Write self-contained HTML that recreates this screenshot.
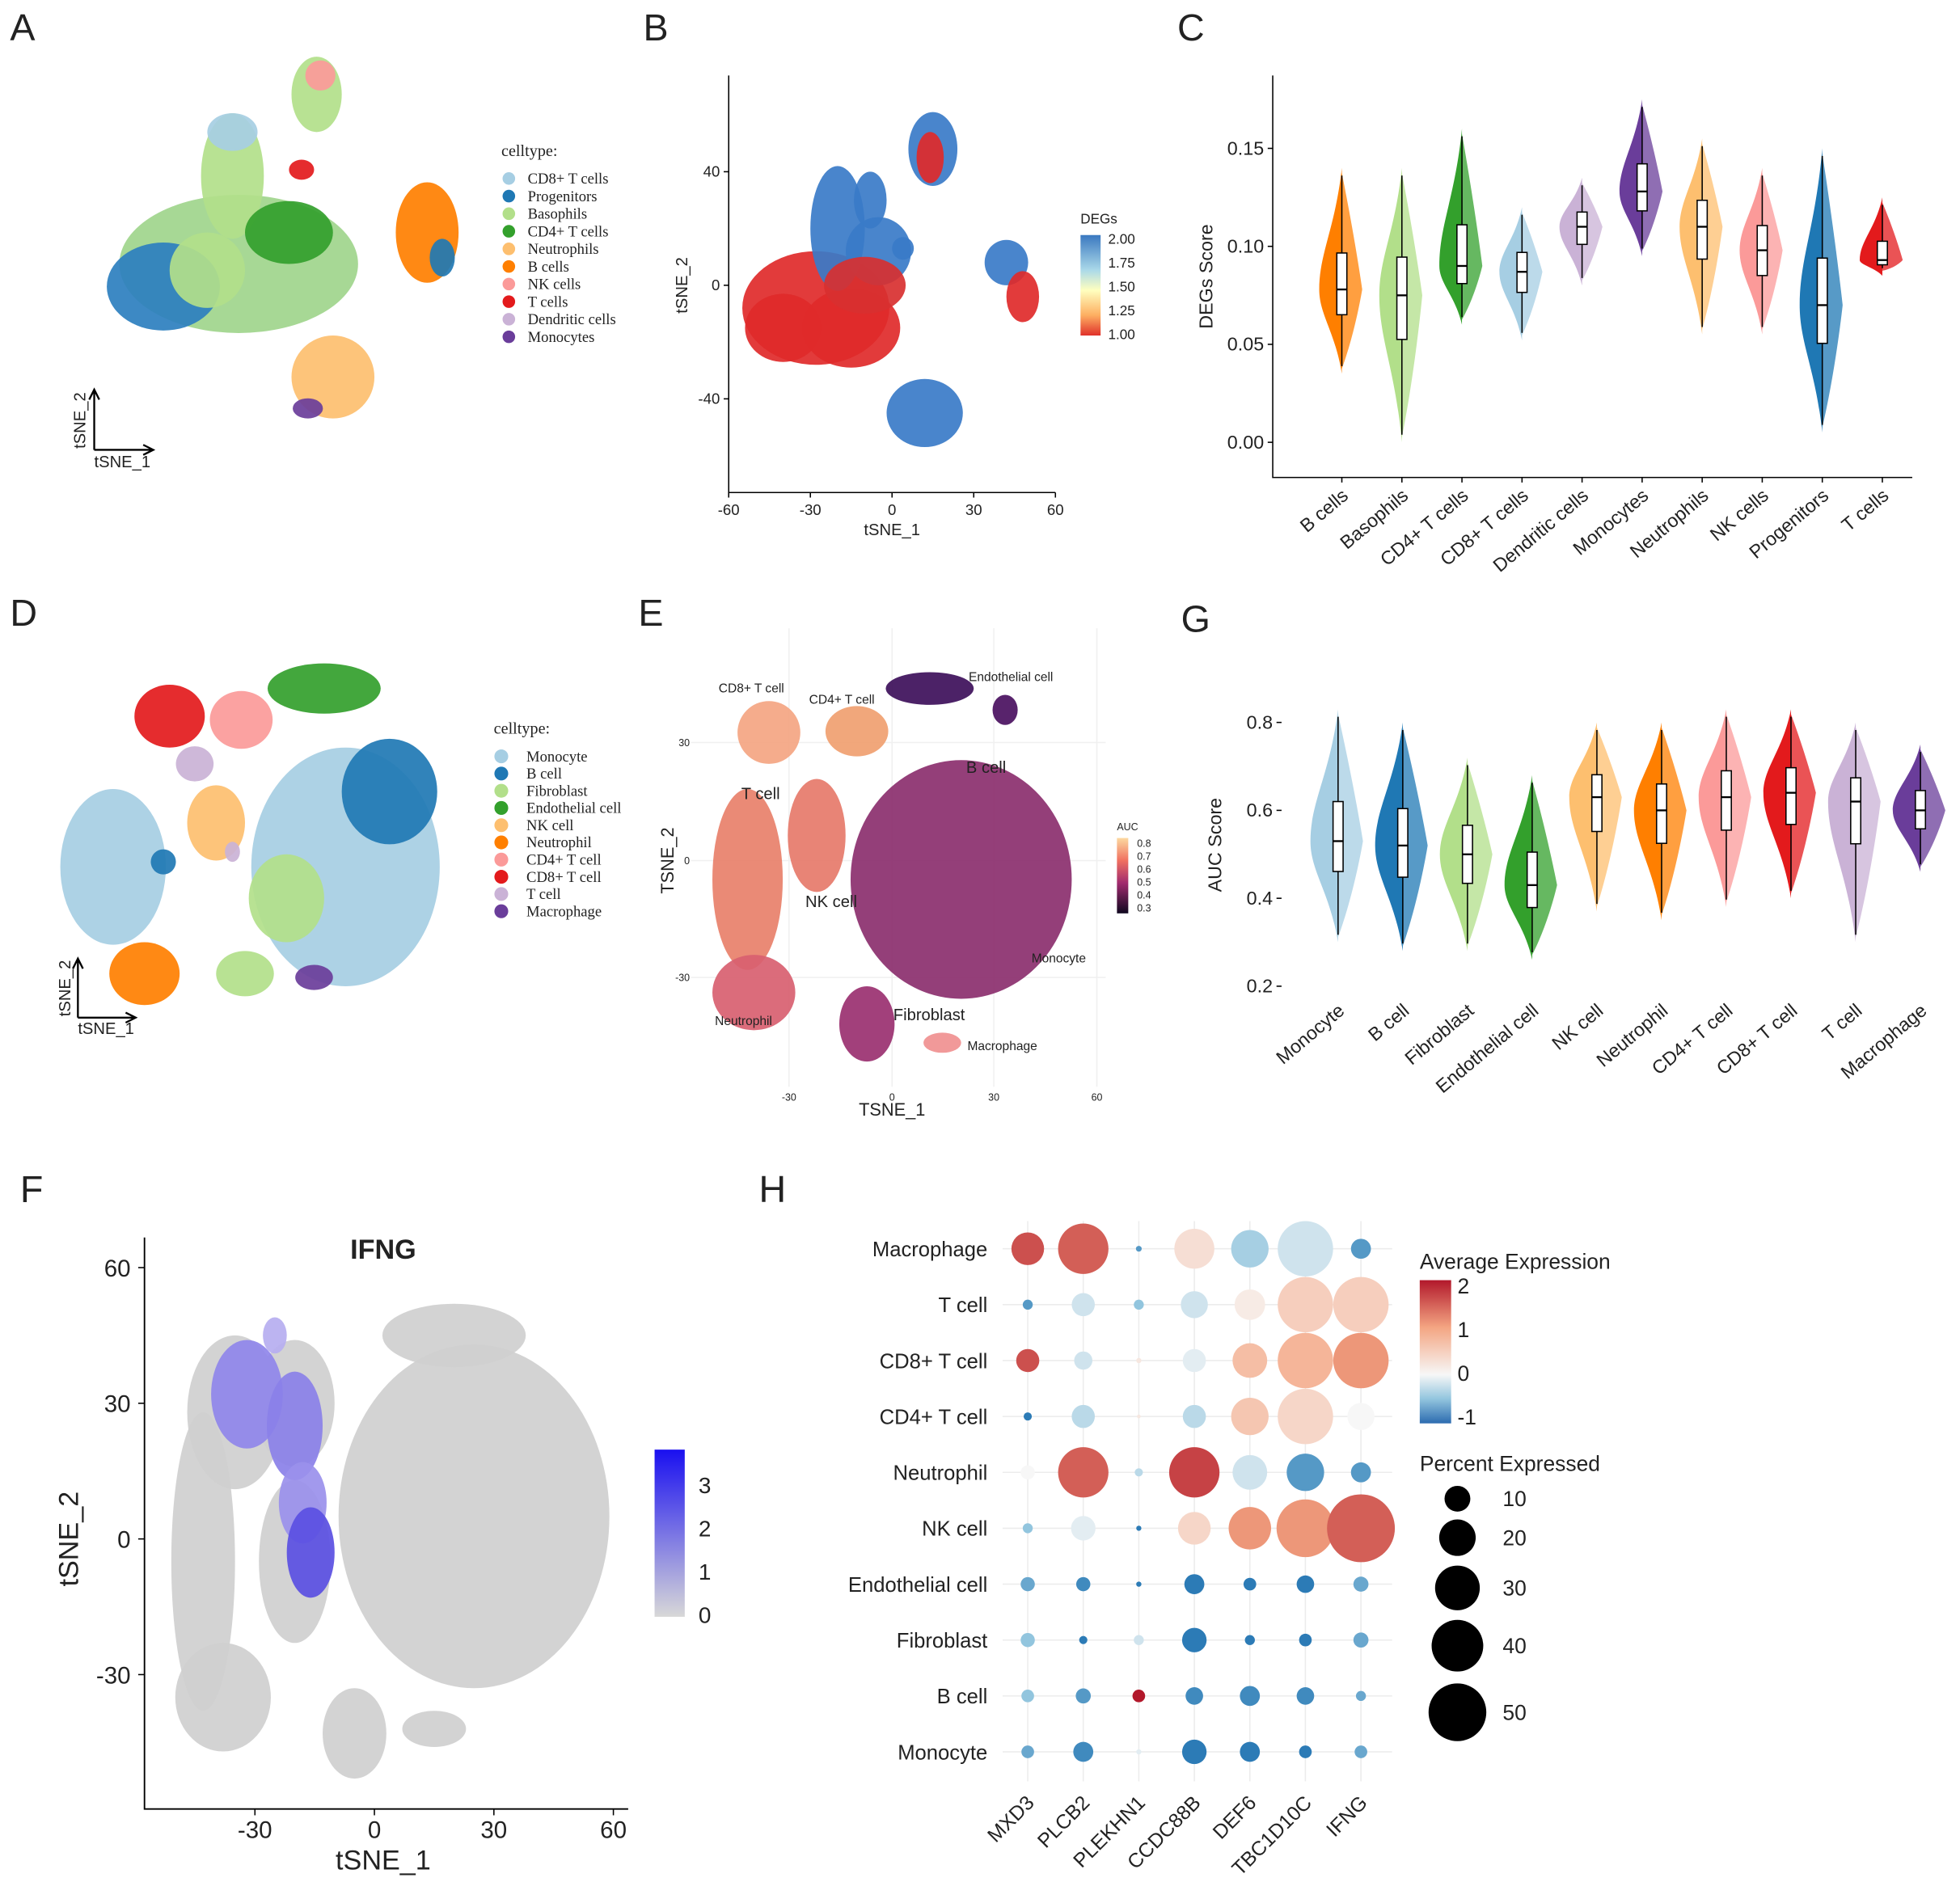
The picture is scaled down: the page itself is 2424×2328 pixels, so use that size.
<!DOCTYPE html>
<html><head><meta charset="utf-8">
<style>
html,body{margin:0;padding:0;background:#fff;}
svg{display:block;}
text{font-family:"Liberation Sans",sans-serif;fill:#222;}
.serif{font-family:"Liberation Serif",serif;}
</style></head>
<body>
<svg id="fig" width="2424" height="2328" viewBox="0 0 1560 1498" xmlns="http://www.w3.org/2000/svg"></svg>
<script>
// ---------- Panel C data ----------
const cCats=["B cells","Basophils","CD4+ T cells","CD8+ T cells","Dendritic cells","Monocytes","Neutrophils","NK cells","Progenitors","T cells"];
const cMin=[0.035,0.0,0.06,0.052,0.08,0.095,0.055,0.055,0.005,0.085];
const cMax=[0.14,0.14,0.16,0.12,0.135,0.175,0.155,0.14,0.15,0.125];
const cMed=[0.078,0.075,0.09,0.087,0.11,0.128,0.11,0.098,0.07,0.093];
const cColors=["#ff7f00","#b2df8a","#33a02c","#a6cee3","#cab2d6","#6a3d9a","#fdbf6f","#fb9a99","#1f78b4","#e31a1c"];
const cTicks=[0,0.05,0.10,0.15];
const cTickLabels=["0.00","0.05","0.10","0.15"];
// ---------- Panel G data ----------
const gCats=["Monocyte","B cell","Fibroblast","Endothelial cell","NK cell","Neutrophil","CD4+ T cell","CD8+ T cell","T cell","Macrophage"];
const gMin=[0.3,0.28,0.28,0.26,0.37,0.35,0.38,0.4,0.3,0.46];
const gMax=[0.83,0.8,0.72,0.68,0.8,0.8,0.83,0.83,0.8,0.75];
const gMed=[0.53,0.52,0.5,0.43,0.63,0.6,0.63,0.64,0.62,0.6];
const gColors=["#a6cee3","#1f78b4","#b2df8a","#33a02c","#fdbf6f","#ff7f00","#fb9a99","#e31a1c","#cab2d6","#6a3d9a"];
const gTicks=[0.2,0.4,0.6,0.8];
// ---------- Panel H data ----------
const hRows=["Macrophage","T cell","CD8+ T cell","CD4+ T cell","Neutrophil","NK cell","Endothelial cell","Fibroblast","B cell","Monocyte"];
const hGenes=["MXD3","PLCB2","PLEKHN1","CCDC88B","DEF6","TBC1D10C","IFNG"];
const hPct=[
[16,38,0.5,24,21,46,6],
[1.5,8,1.5,11,14,46,46],
[8,5,0.4,8,18,46,46],
[1,8,0.2,8,21,46,11],
[3,38,1,38,18,21,6],
[1.5,9,0.4,16,27,50,69],
[3,3,0.4,6,2.4,4.6,3.4],
[3,1,1.5,9,1.5,2.4,3.4],
[2.4,3.4,2.4,4.6,6,4.6,1.5],
[2.4,6,0.4,9,6,2.4,2.4]];
const hAvg=[
[1.6,1.5,-0.8,0.3,-0.4,-0.2,-0.8],
[-0.8,-0.2,-0.5,-0.2,0.15,0.5,0.5],
[1.6,-0.2,0.2,-0.1,0.7,0.8,1.1],
[-1,-0.3,0.2,-0.3,0.6,0.4,0.0],
[0,1.5,-0.3,1.7,-0.2,-0.8,-0.8],
[-0.5,-0.1,-1,0.4,1.1,1.1,1.5],
[-0.7,-0.9,-1,-1.2,-1,-1,-0.7],
[-0.5,-1,-0.2,-1.1,-1,-1,-0.7],
[-0.5,-0.8,2,-0.9,-0.9,-0.9,-0.7],
[-0.7,-0.9,-0.1,-1.1,-1,-1,-0.7]];
const hSizeLegend=[10,20,30,40,50];
// ---------- tSNE cluster data (cx, cy, rx, ry in tSNE units) ----------
const bClusters=[
[-28,-8,27,20,"#e02a2a"],[-40,-15,14,12,"#e02a2a"],[-15,-15,18,14,"#e02a2a"],
[-20,20,10,22,"#3a7bc8"],[-5,12,12,12,"#3a7bc8"],[-10,0,15,10,"#d83030"],
[-8,30,6,10,"#3a7bc8"],[15,48,9,13,"#3a7bc8"],[14,45,5,9,"#e02a2a"],
[42,8,8,8,"#3a7bc8"],[48,-4,6,9,"#e02a2a"],[12,-45,14,12,"#3a7bc8"],[4,13,4,4,"#3a7bc8"]];
const fClusters=[
[-35,28,12,17,"#cfcfcf"],[-20,30,10,14,"#cfcfcf"],[-43,-5,8,33,"#cfcfcf"],
[-20,-5,9,18,"#cfcfcf"],[-38,-35,12,12,"#cfcfcf"],[25,5,34,38,"#cfcfcf"],
[20,45,18,7,"#cfcfcf"],[-5,-43,8,10,"#cfcfcf"],[15,-42,8,4,"#cfcfcf"],
[-32,32,9,12,"#8f86ea"],[-20,25,7,12,"#8a80e8"],[-18,8,6,9,"#9a90ec"],
[-16,-3,6,10,"#5a4fe2"],[-25,45,3,4,"#b6aef0"]];
const fColorTicks=[0,1,2,3];

const S=document.getElementById('fig');
const NS="http://www.w3.org/2000/svg";
function el(tag,attrs,parent){const e=document.createElementNS(NS,tag);for(const k in attrs)e.setAttribute(k,attrs[k]);(parent||S).appendChild(e);return e;}
function txt(x,y,s,size,attrs,parent){const t=el('text',Object.assign({x:x,y:y,'font-size':size},attrs||{}),parent);t.textContent=s;return t;}

[["A",8,32],["B",512,32],["C",937,32],["D",8,498],["E",508,498],["G",940,503],["F",16,957],["H",604,957]].forEach(p=>{
  const t=txt(p[1],p[2],p[0],30,{});
  
  
});

function blob(parent,cx,cy,rx,ry,col,op){
  const e=el('ellipse',{cx:cx,cy:cy,rx:rx,ry:ry,fill:col,'fill-opacity':op||0.92},parent);
  
  
  return e;
}

// ================= Panel A =================
(function(){
 const g=el('g',{});
 
 
 const aBlobs=[[190,210,95,55,"#9fd58c"],[130,228,45,35,"#2c7fbf"],[165,215,30,30,"#b2df8a"],[185,140,25,50,"#b2df8a"],[185,105,20,15,"#a6cee3"],[230,185,35,25,"#33a02c"],
 [252,75,20,30,"#b2df8a"],[255,60,12,12,"#fb9a99"],[340,185,25,40,"#ff7f00"],[352,205,10,15,"#1f78b4"],[265,300,33,33,"#fdbf6f"],[245,325,12,8,"#6a3d9a"],[240,135,10,8,"#e31a1c"]];
 aBlobs.forEach(b=>blob(g,b[0],b[1],b[2],b[3],b[4]));
 el('path',{d:"M75,358 L75,310 M71,318 L75,310 L79,318 M75,358 L122,358 M114,354 L122,358 L114,362",stroke:"#000",fill:"none",'stroke-width':1.5},g);
 txt(68,357,"tSNE_2",13,{transform:"rotate(-90 68 357)"},g);
 txt(75,372,"tSNE_1",13,{},g);
 const leg=el('g',{});
 
 
 txt(399,124,"celltype:",13,{class:"serif"},leg);
 const names=["CD8+ T cells","Progenitors","Basophils","CD4+ T cells","Neutrophils","B cells","NK cells","T cells","Dendritic cells","Monocytes"];
 const cols=["#a6cee3","#1f78b4","#b2df8a","#33a02c","#fdbf6f","#ff7f00","#fb9a99","#e31a1c","#cab2d6","#6a3d9a"];
 names.forEach((n,i)=>{const y=142+i*14;
  const c=el('circle',{cx:405,cy:y,r:5,fill:cols[i]},leg);
  
  
  txt(420,y+4,n,12,{class:"serif"},leg);});
})();

// ================= Panel B =================
(function(){
 const g=el('g',{});
 
 
 const x=v=>710+v*2.167, y=v=>227-v*2.26;
 bClusters.forEach(c=>blob(g,x(c[0]),y(c[1]),c[2]*2.167,c[3]*2.26,c[4]));
 el('path',{d:"M580,60 L580,392 L840,392",stroke:"#000",fill:"none",'stroke-width':1},g);
 [-60,-30,0,30,60].forEach(v=>{el('line',{x1:x(v),x2:x(v),y1:392,y2:396,stroke:"#000"},g);txt(x(v),410,String(v),12,{'text-anchor':'middle'},g);});
 [-40,0,40].forEach(v=>{el('line',{x1:576,x2:580,y1:y(v),y2:y(v),stroke:"#000"},g);txt(573,y(v)+4,String(v),12,{'text-anchor':'end'},g);});
 txt(710,426,"tSNE_1",13,{'text-anchor':'middle'},g);
 txt(547,227,"tSNE_2",13,{'text-anchor':'middle',transform:"rotate(-90 547 227)"},g);
 const d=el('defs',{});
 const lg=el('linearGradient',{id:'gb',x1:0,y1:0,x2:0,y2:1},d);
 [["0","#3a78c0"],["0.35","#abd9e9"],["0.55","#ffffbf"],["0.8","#fdae61"],["1","#e0302a"]].forEach(s=>el('stop',{offset:s[0],'stop-color':s[1]},lg));
 txt(860,178,"DEGs",11,{},g);
 const cb=el('rect',{x:860,y:187,width:16,height:80,fill:"url(#gb)"},g);
 
 
 ["2.00","1.75","1.50","1.25","1.00"].forEach((s,i)=>txt(882,194+i*19,s,11,{},g));
})();

function violinPanel(opt){
 const g=el('g',{});
 
 
 const y=opt.y, x=i=>opt.x0+i*opt.dx;
 if(opt.axis) el('path',{d:`M${opt.ax},${opt.top} L${opt.ax},${opt.base} L${opt.right},${opt.base}`,stroke:"#000",fill:"none",'stroke-width':1},g);
 opt.ticks.forEach((v,i)=>{el('line',{x1:opt.ax-4,x2:opt.ax,y1:y(v),y2:y(v),stroke:"#000"},g);txt(opt.ax-7,y(v)+5,opt.tickLabels[i],15,{'text-anchor':'end'},g);});
 opt.cats.forEach((c,i)=>{
  const cx=x(i), ymin=y(opt.min[i]), ymax=y(opt.max[i]), ym=y(opt.med[i]), w=opt.w;
  const v=el('path',{d:`M${cx},${ymax} C${cx-w*0.3},${ym-(ym-ymax)*0.5} ${cx-w},${ym-(ym-ymax)*0.3} ${cx-w},${ym} C${cx-w},${ym+(ymin-ym)*0.3} ${cx-w*0.3},${ym+(ymin-ym)*0.5} ${cx},${ymin} Z`,fill:opt.colors[i]},g);
  
  
  const p=el('path',{d:`M${cx},${ymax+4} C${cx+w*0.6},${ym-(ym-ymax)*0.4} ${cx+w*0.9},${ym} ${cx+w*0.9},${ym} C${cx+w*0.9},${ym} ${cx+w*0.6},${ym+(ymin-ym)*0.5} ${cx},${ymin-4} Z`,fill:opt.colors[i],'fill-opacity':0.75},g);
  
  
  const q1=ym+(ymin-ym)*0.3, q3=ym-(ym-ymax)*0.3;
  el('line',{x1:cx,x2:cx,y1:ymax+6,y2:ymin-6,stroke:"#000",'stroke-width':1},g);
  el('rect',{x:cx-4,y:q3,width:8,height:q1-q3,fill:"#fff",stroke:"#000",'stroke-width':1},g);
  el('line',{x1:cx-4,x2:cx+4,y1:ym,y2:ym,stroke:"#000",'stroke-width':1.5},g);
  if(opt.axis) el('line',{x1:cx,x2:cx,y1:opt.base,y2:opt.base+4,stroke:"#000"},g);
  txt(cx+6,opt.base+16,c,15,{'text-anchor':'end',transform:`rotate(-40 ${cx+6} ${opt.base+16})`},g);
 });
 txt(opt.ax-48,(opt.top+opt.base)/2,opt.ylab,15,{'text-anchor':'middle',transform:`rotate(-90 ${opt.ax-48} ${(opt.top+opt.base)/2})`},g);
}
violinPanel({name:'panel-c-violin',cats:cCats,min:cMin,max:cMax,med:cMed,colors:cColors,ticks:cTicks,tickLabels:cTickLabels,
 y:v=>352-v*1560,x0:1068,dx:47.8,w:18,ax:1013,top:60,base:380,right:1522,axis:true,ylab:"DEGs Score"});
violinPanel({name:'panel-g-violin',cats:gCats,min:gMin,max:gMax,med:gMed,colors:gColors,ticks:gTicks,tickLabels:["0.2","0.4","0.6","0.8"],
 y:v=>785-(v-0.2)*350,x0:1065,dx:51.5,w:22,ax:1020,top:555,base:790,right:1550,axis:false,ylab:"AUC Score"});

// ================= Panel D =================
(function(){
 const g=el('g',{});
 
 
 const dBlobs=[[90,690,42,62,"#a6cee3"],[275,690,75,95,"#a6cee3"],[310,630,38,42,"#1f78b4"],[135,570,28,25,"#e31a1c"],[192,573,25,23,"#fb9a99"],
 [258,548,45,20,"#33a02c"],[172,655,23,30,"#fdbf6f"],[155,608,15,14,"#cab2d6"],[115,775,28,25,"#ff7f00"],[228,715,30,35,"#b2df8a"],
 [195,775,23,18,"#b2df8a"],[250,778,15,10,"#6a3d9a"],[130,686,10,10,"#1f78b4"],[185,678,6,8,"#cab2d6"]];
 dBlobs.forEach(b=>blob(g,b[0],b[1],b[2],b[3],b[4]));
 el('path',{d:"M62,810 L62,763 M58,771 L62,763 L66,771 M62,810 L108,810 M100,806 L108,810 L100,814",stroke:"#000",fill:"none",'stroke-width':1.5},g);
 txt(56,809,"tSNE_2",13,{transform:"rotate(-90 56 809)"},g);
 txt(62,823,"tSNE_1",13,{},g);
 txt(393,584,"celltype:",13,{class:"serif"},g);
 const names=["Monocyte","B cell","Fibroblast","Endothelial cell","NK cell","Neutrophil","CD4+ T cell","CD8+ T cell","T cell","Macrophage"];
 names.forEach((n,i)=>{const y=602+i*13.7;
  const c=el('circle',{cx:399,cy:y,r:5.5,fill:gColors[i]},g);
  
  
  txt(419,y+4,n,12,{class:"serif"},g);});
})();

// ================= Panel E =================
(function(){
 const g=el('g',{});
 
 
 [628,710,791,873].forEach(x=>el('line',{x1:x,x2:x,y1:500,y2:865,stroke:"#f0f0f0"},g));
 [591,685,778].forEach(y=>el('line',{x1:550,x2:880,y1:y,y2:y,stroke:"#f0f0f0"},g));
 const eBlobs=[[595,700,28,72,"#e8806a"],[612,583,25,25,"#f4a582"],[682,582,25,20,"#f0a070"],[650,665,23,45,"#e67a6a"],[600,790,33,30,"#d86070"],
 [765,700,88,95,"#8b2f6e"],[740,548,35,13,"#3d0f5a"],[690,815,22,30,"#9a3070"],[750,830,15,8,"#f09090"],[800,565,10,12,"#4a1060"]];
 eBlobs.forEach(b=>blob(g,b[0],b[1],b[2],b[3],b[4]));
 [["-30",628],["0",710],["30",791],["60",873]].forEach(t=>txt(t[1],876,t[0],8,{'text-anchor':'middle'},g));
 [["30",591],["0",685],["-30",778]].forEach(t=>txt(549,t[1]+3,t[0],8,{'text-anchor':'end'},g));
 txt(710,888,"TSNE_1",14,{'text-anchor':'middle'},g);
 txt(536,685,"TSNE_2",14,{'text-anchor':'middle',transform:"rotate(-90 536 685)"},g);
 [["CD8+ T cell",572,551],["CD4+ T cell",644,560],["Endothelial cell",771,542],["B cell",769,615],["T cell",590,636],["NK cell",641,722],["Monocyte",821,766],["Neutrophil",569,816],["Fibroblast",711,812],["Macrophage",770,836]].forEach(l=>{
  const t=txt(l[1],l[2],l[0],l[0].length>7&&l[0]!="Fibroblast"?10:13,{},g);
  
  });
 const d=el('defs',{});
 const lg=el('linearGradient',{id:'ge',x1:0,y1:0,x2:0,y2:1},d);
 [["0","#fcd9a0"],["0.3","#f07060"],["0.6","#a02a6e"],["1","#100820"]].forEach(s=>el('stop',{offset:s[0],'stop-color':s[1]},lg));
 txt(889,661,"AUC",8,{},g);
 el('rect',{x:889,y:667,width:9,height:60,fill:"url(#ge)"},g);
 ["0.8","0.7","0.6","0.5","0.4","0.3"].forEach((s,i)=>txt(905,674+i*10.3,s,8,{},g));
})();

// ================= Panel F =================
(function(){
 const g=el('g',{});
 
 
 const x=v=>298+v*3.17, y=v=>1225-v*3.6;
 fClusters.forEach(c=>blob(g,x(c[0]),y(c[1]),c[2]*3.17,c[3]*3.6,c[4]));
 el('path',{d:"M115,985 L115,1440 L500,1440",stroke:"#000",fill:"none",'stroke-width':1.2},g);
 [-30,0,30,60].forEach(v=>{el('line',{x1:x(v),x2:x(v),y1:1440,y2:1445,stroke:"#000"},g);txt(x(v),1463,String(v),19,{'text-anchor':'middle'},g);});
 [-30,0,30,60].forEach(v=>{el('line',{x1:110,x2:115,y1:y(v),y2:y(v),stroke:"#000"},g);txt(104,y(v)+7,String(v),19,{'text-anchor':'end'},g);});
 txt(305,1488,"tSNE_1",22,{'text-anchor':'middle'},g);
 txt(62,1225,"tSNE_2",22,{'text-anchor':'middle',transform:"rotate(-90 62 1225)"},g);
 txt(305,1002,"IFNG",22,{'text-anchor':'middle','font-weight':'bold'},g);
 const d=el('defs',{});
 const lg=el('linearGradient',{id:'gf',x1:0,y1:1,x2:0,y2:0},d);
 [["0","#d8d8d8"],["1","#1a10f0"]].forEach(s=>el('stop',{offset:s[0],'stop-color':s[1]},lg));
 const cy=v=>1285-v*34.5;
 el('rect',{x:521,y:cy(3.8),width:24,height:cy(0)-cy(3.8)+2,fill:"url(#gf)"},g);
 fColorTicks.forEach(v=>txt(556,cy(v)+7,String(v),18,{},g));
})();

// ================= Panel H =================
(function(){
 const g=el('g',{});
 
 
 const x=i=>818+i*44.2, y=i=>994+i*44.5, r=p=>Math.sqrt(p)*3.25;
 hGenes.forEach((n,i)=>{el('line',{x1:x(i),x2:x(i),y1:972,y2:1418,stroke:"#ececec"},g);
  txt(x(i)+6,1436,n,16,{'text-anchor':'end',transform:`rotate(-45 ${x(i)+6} 1436)`},g);});
 hRows.forEach((n,i)=>{el('line',{x1:798,x2:1108,y1:y(i),y2:y(i),stroke:"#ececec"},g);txt(786,y(i)+6,n,16.5,{'text-anchor':'end'},g);});
 const stops=[[-1,[44,123,182]],[-0.5,[146,197,222]],[0,[247,247,247]],[1,[244,165,130]],[2,[178,24,43]]];
 function col(v){v=Math.max(-1,Math.min(2,v));for(let k=0;k<stops.length-1;k++){const a=stops[k],b=stops[k+1];if(v<=b[0]){const t=(v-a[0])/(b[0]-a[0]);return `rgb(${a[1].map((c,j)=>Math.round(c+(b[1][j]-c)*t)).join(',')})`;}}return "rgb(178,24,43)";}
 hRows.forEach((n,i)=>hGenes.forEach((gn,j)=>{
  const c=el('circle',{cx:x(j),cy:y(i),r:r(hPct[i][j]),fill:col(hAvg[i][j])},g);
  
  }));
 txt(1130,1010,"Average Expression",17,{},g);
 const d=el('defs',{});
 const lg=el('linearGradient',{id:'gh',x1:0,y1:0,x2:0,y2:1},d);
 [["0","#b2182b"],["0.33","#f4a582"],["0.66","#f7f7f7"],["0.83","#92c5de"],["1","#2c6bb0"]].forEach(s=>el('stop',{offset:s[0],'stop-color':s[1]},lg));
 el('rect',{x:1130,y:1019,width:25,height:114,fill:"url(#gh)"},g);
 const ey=v=>1128-(v+1)*34.8;
 [2,1,0,-1].forEach(v=>txt(1160,ey(v)+6,String(v),17,{},g));
 txt(1130,1171,"Percent Expressed",17,{},g);
 const ly=[1193,1224,1264,1310,1363];
 hSizeLegend.forEach((p,i)=>{const c=el('circle',{cx:1160,cy:ly[i],r:r(p),fill:"#000"},g);
  
  
  txt(1196,ly[i]+6,String(p),17,{},g);});
})();
</script>
</body></html>
